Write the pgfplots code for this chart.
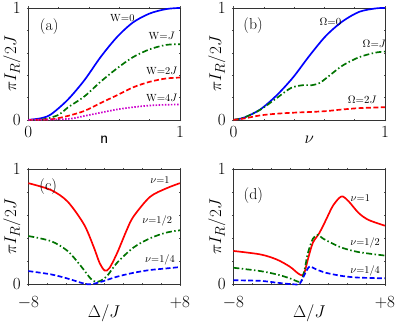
\documentclass[border=0pt]{standalone}
\usepackage{pgfplots}
\pgfplotsset{compat=1.18}

\definecolor{cblue}{rgb}{0,0,1}
\definecolor{cgreen}{rgb}{0,0.45,0}
\definecolor{cred}{rgb}{1,0,0}
\definecolor{cmag}{rgb}{0.8,0,0.8}

\tikzset{
  ann/.style={font=\fontsize{10.5}{12}\selectfont, inner sep=0pt},
  pan/.style={font=\fontsize{16}{18}\selectfont, inner sep=0pt},
}

\pgfplotsset{
  panel/.style={
    scale only axis,
    width=153bp, height=113bp,
    anchor=south west,
    ymin=0, ymax=1,
    ytick={0,1},
    minor ytick={0.2,0.4,0.6,0.8},
    tick label style={font=\fontsize{16}{18}\selectfont, inner sep=0pt},
    xticklabel style={yshift=-5bp},
    yticklabel style={xshift=-6bp},
    label style={font=\fontsize{19}{21}\selectfont},
    ylabel={$\pi I_R/2J$},
    ylabel style={yshift=-11bp},
    xlabel style={yshift=5bp},
    major tick length=3bp, minor tick length=2bp,
    tick align=center,
    axis line style={black!80, line width=0.6pt},
    every tick/.style={black!70},
    clip=false,
  },
  top/.style={panel, xmin=0, xmax=1, xtick={0,1},
    minor xtick={0.2,0.4,0.6,0.8}},
  bot/.style={panel, height=116bp, xmin=-8, xmax=8, xtick={-8,8},
    xticklabels={$-8$,$+8$}, minor xtick={-6,-4,-2,0,2,4,6},
    xticklabel style={yshift=-6bp},
    xlabel={$\Delta/J$}, xlabel style={yshift=3bp}},
  cb/.style={cblue, line width=1.7pt, smooth},
  cg/.style={cgreen, line width=1.7pt, smooth, dash pattern=on 6pt off 2.5pt on 1.5pt off 2.5pt},
  cr/.style={cred, line width=1.7pt, smooth, dash pattern=on 5pt off 2.5pt},
  crs/.style={cred, line width=1.7pt, smooth},
  cbd/.style={cblue, line width=1.7pt, smooth, dash pattern=on 5pt off 2.5pt},
  cm/.style={cmag, line width=1.7pt, smooth, dash pattern=on 1.5pt off 1.6pt},
}

\begin{document}
\begin{tikzpicture}
\path (0,0) rectangle (395bp,-321bp);

% (a)
\begin{axis}[top, at={(27bp,-121bp)}, xlabel={$\mathsf{n}$}]
\addplot[cb] coordinates {(0,0)(0.085,0.015)(0.15,0.05)(0.26,0.18)(0.37,0.355)(0.476,0.56)(0.585,0.74)(0.69,0.87)(0.8,0.95)(0.91,0.99)(1,1)};
\addplot[cg] coordinates {(0,0)(0.1,0.005)(0.2,0.045)(0.26,0.11)(0.37,0.21)(0.476,0.34)(0.585,0.46)(0.69,0.56)(0.8,0.63)(0.91,0.67)(1,0.675)};
\addplot[cr] coordinates {(0,0)(0.15,0.005)(0.26,0.035)(0.37,0.08)(0.476,0.15)(0.585,0.22)(0.69,0.29)(0.8,0.34)(0.91,0.37)(1,0.378)};
\addplot[cm] coordinates {(0,0)(0.26,0.008)(0.37,0.035)(0.476,0.064)(0.585,0.093)(0.69,0.113)(0.8,0.128)(0.91,0.135)(1,0.137)};
\node[pan] at (axis cs:0.137,0.833) {(a)};
\node[ann] at (axis cs:0.62,0.91) {W$=$0};
\node[ann] at (axis cs:0.88,0.75) {W$=$$J$};
\node[ann] at (axis cs:0.88,0.44) {W$=$2$J$};
\node[ann] at (axis cs:0.88,0.20) {W$=$4$J$};
\end{axis}

% (b)
\begin{axis}[top, at={(234bp,-121bp)}, xlabel={$\nu$}]
\addplot[cb] coordinates {(0,0)(0.07,0.02)(0.177,0.093)(0.286,0.22)(0.394,0.38)(0.5,0.57)(0.61,0.75)(0.72,0.88)(0.83,0.965)(0.935,0.995)(1,1)};
\addplot[cg] coordinates {(0,0)(0.07,0.02)(0.177,0.09)(0.286,0.195)(0.38,0.285)(0.46,0.31)(0.52,0.31)(0.57,0.33)(0.61,0.37)(0.72,0.485)(0.83,0.56)(0.935,0.6)(1,0.61)};
\addplot[cr] coordinates {(0,0)(0.07,0.012)(0.177,0.04)(0.286,0.055)(0.394,0.064)(0.5,0.07)(0.61,0.078)(0.72,0.093)(0.83,0.105)(0.935,0.11)(1,0.113)};
\node[pan] at (axis cs:0.13,0.84) {(b)};
\node[ann] at (axis cs:0.64,0.88) {$\Omega{=}0$};
\node[ann] at (axis cs:0.93,0.675) {$\Omega{=}J$};
\node[ann] at (axis cs:0.85,0.18) {$\Omega{=}2J$};
\end{axis}

% (c)
\begin{axis}[bot, at={(27bp,-287bp)}]
\addplot[crs] coordinates {(-8,0.88)(-5.6,0.82)(-3.86,0.72)(-2.12,0.52)(-1.08,0.32)(-0.5,0.19)(0.05,0.12)(0.55,0.14)(1.36,0.27)(2.4,0.475)(3.1,0.59)(4.83,0.76)(6.57,0.835)(8,0.88)};
\addplot[cg] coordinates {(-8,0.42)(-5.6,0.375)(-3.86,0.29)(-2.47,0.16)(-1.43,0.05)(-0.9,0.022)(-0.38,0.03)(0.31,0.072)(1.36,0.187)(3.1,0.32)(4.83,0.40)(6.57,0.45)(8,0.47)};
\addplot[cbd] coordinates {(-8,0.115)(-5.6,0.086)(-3.86,0.05)(-2.12,0.006)(-1.43,0)(-0.38,0.02)(1.36,0.066)(3.1,0.1)(4.83,0.124)(6.57,0.138)(8,0.15)};
\node[pan] at (axis cs:-5.9,0.853) {(c)};
\node[ann] at (axis cs:5.9,0.905) {$\nu$=1};
\node[ann] at (axis cs:5.6,0.55) {$\nu$=1/2};
\node[ann] at (axis cs:5.9,0.216) {$\nu$=1/4};
\end{axis}

% (d)
\begin{axis}[bot, at={(234bp,-287bp)}]
\addplot[crs] coordinates {(-8,0.29)(-5.16,0.26)(-3.43,0.216)(-2.04,0.153)(-1.18,0.095)(-0.73,0.078)(-0.48,0.107)(-0.14,0.216)(0.38,0.36)(1.07,0.446)(1.77,0.56)(2.46,0.677)(3.15,0.75)(3.57,0.764)(4.19,0.72)(5.23,0.62)(6.27,0.56)(8,0.51)};
\addplot[cg] coordinates {(-8,0.144)(-5.16,0.115)(-3.43,0.086)(-2.04,0.052)(-1.18,0.023)(-0.83,0.03)(-0.48,0.13)(-0.14,0.27)(0.38,0.395)(0.9,0.43)(1.42,0.40)(2.46,0.355)(3.5,0.317)(5.23,0.28)(8,0.25)};
\addplot[cbd] coordinates {(-8,0.035)(-5.16,0.03)(-3.43,0.014)(-1.7,0)(-1.0,0.006)(-0.48,0.086)(0.03,0.153)(0.73,0.13)(1.77,0.1)(3.5,0.072)(5.23,0.058)(8,0.052)};
\node[pan] at (axis cs:-5.9,0.776) {(d)};
\node[ann] at (axis cs:5.4,0.75) {$\nu$=1};
\node[ann] at (axis cs:5.9,0.36) {$\nu$=1/2};
\node[ann] at (axis cs:5.9,0.12) {$\nu$=1/4};
\end{axis}
\end{tikzpicture}
\end{document}
